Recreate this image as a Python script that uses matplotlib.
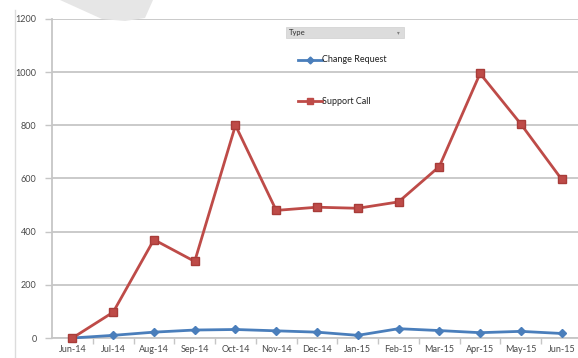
import matplotlib.pyplot as plt
from matplotlib.patches import Polygon, FancyBboxPatch
from matplotlib.lines import Line2D

# data
months = ["Jun-14", "Jul-14", "Aug-14", "Sep-14", "Oct-14", "Nov-14", "Dec-14",
          "Jan-15", "Feb-15", "Mar-15", "Apr-15", "May-15", "Jun-15"]
change_request = [0, 10, 22, 30, 32, 27, 22, 10, 35, 28, 20, 25, 17]
support_call = [0, 97, 370, 288, 800, 480, 492, 488, 512, 645, 995, 805, 597]
y_ticks = [0, 200, 400, 600, 800, 1000, 1200]

blue = "#4a7ebb"
red = "#be4b48"
grid = "#c6c6c6"

plt.rcParams["font.family"] = ["Lato", "DejaVu Sans"]

fig = plt.figure(figsize=(5.78, 3.58), dpi=100)
fig.patch.set_facecolor("white")
ax = fig.add_axes([52 / 578, 20 / 358, 530 / 578, 319 / 358])

x = list(range(len(months)))
ax.plot(x, change_request, color=blue, lw=2, marker="D", ms=4,
        mfc=blue, mec=blue, zorder=3, clip_on=False)
ax.plot(x, support_call, color=red, lw=2, marker="s", ms=6,
        mfc=red, mec="#a83c39", zorder=4, clip_on=False)

ax.set_xlim(-0.5, len(months) - 0.5)
ax.set_ylim(0, 1200)
ax.set_yticks(y_ticks)
ax.set_yticklabels([str(v) for v in y_ticks], fontsize=6.5, color="#4a4a4a")
ax.set_xticks(x)
ax.set_xticklabels(months, fontsize=6.5, color="#4a4a4a")
ax.set_xticks([i + 0.5 for i in x[:-1]], minor=True)
ax.tick_params(axis="x", which="major", length=0, pad=5)
ax.tick_params(axis="x", which="minor", length=4, color=grid, width=1)
ax.tick_params(axis="y", length=5, color=grid, width=1, pad=6)

ax.grid(axis="y", color=grid, lw=1.3)
ax.set_axisbelow(True)
for s in ["top", "right"]:
    ax.spines[s].set_visible(False)
for s in ["left", "bottom"]:
    ax.spines[s].set_color(grid)
    ax.spines[s].set_linewidth(1.3)

# grey shape at top and thin line at left (screenshot artefacts)
fig.patches.append(Polygon([(60 / 578, 1), (153 / 578, 1), (145 / 578, 1 - 18 / 358),
                            (125 / 578, 1 - 21 / 358), (102 / 578, 1 - 19 / 358)],
                           closed=True, transform=fig.transFigure,
                           facecolor="#e6e6e6", edgecolor="none", zorder=0))
fig.add_artist(Line2D([15 / 578, 15 / 578], [0, 1 - 10 / 358],
                      transform=fig.transFigure, color="#dcdcdc", lw=1))

# legend / filter area
fig.patches.append(FancyBboxPatch((286 / 578, 1 - 38 / 358), 118 / 578, 11 / 358,
                                  boxstyle="square,pad=0", transform=fig.transFigure,
                                  facecolor="#dcdcdc", edgecolor="#cfcfcf", lw=0.5))
fig.text(289 / 578, 1 - 32.5 / 358, "Type", fontsize=5.5, va="center", color="#303030")
fig.text(397 / 578, 1 - 32.5 / 358, "\u25be", fontsize=4, va="center", color="#808080")

for yy, col, mk, ms, lab in [(60, blue, "D", 3.5, "Change Request"),
                             (101, red, "s", 5, "Support Call")]:
    yf = 1 - yy / 358
    fig.add_artist(Line2D([298 / 578, 322 / 578], [yf, yf], transform=fig.transFigure,
                          color=col, lw=2))
    fig.add_artist(Line2D([310 / 578], [yf], transform=fig.transFigure, color=col,
                          marker=mk, ms=ms))
    fig.text(322 / 578, yf, lab, fontsize=6.5, va="center", color="#202020")

fig.savefig("out.png", dpi=100)
